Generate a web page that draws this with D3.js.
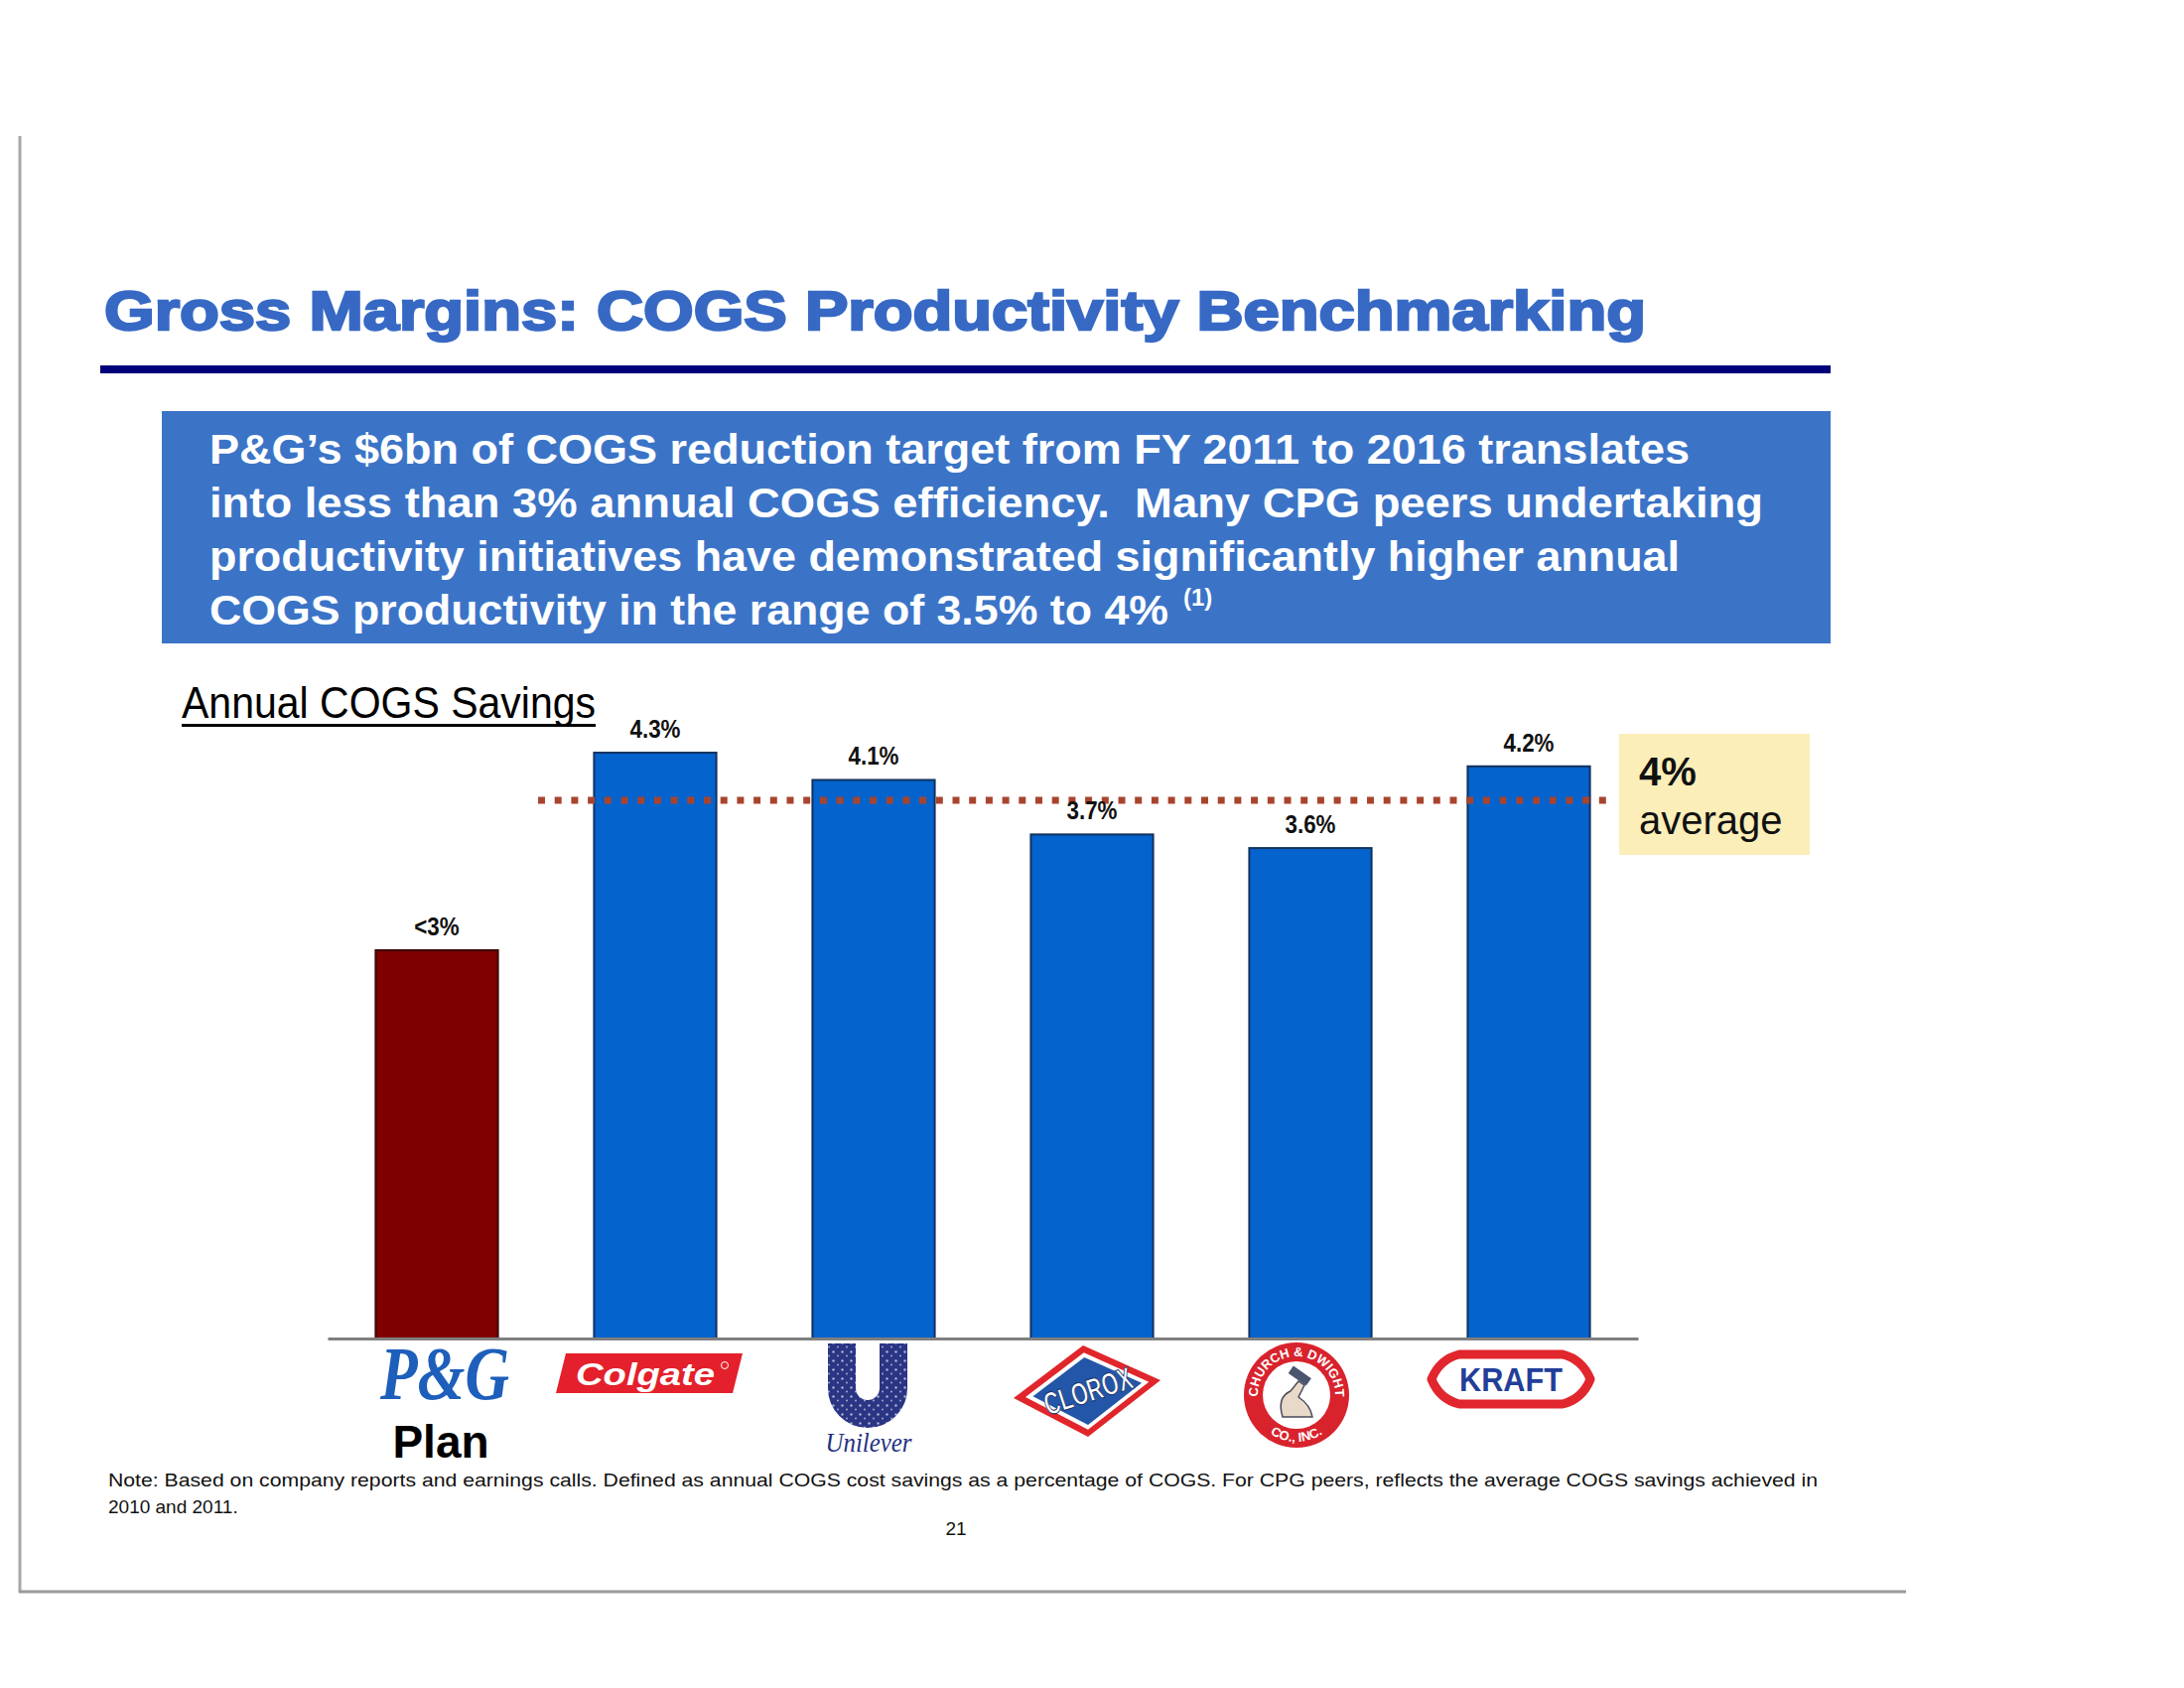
<!DOCTYPE html>
<html><head><meta charset="utf-8">
<script src="https://cdn.jsdelivr.net/npm/d3@7"></script>
<style>body{margin:0;background:#fff} svg{display:block}</style>
</head><body>
<svg id="c" width="2200" height="1700"></svg>
<script>
// ---------- data ----------
const categories = ["P&G Plan", "Colgate", "Unilever", "Clorox", "Church & Dwight", "Kraft"];
const savings = [2.85, 4.3, 4.1, 3.7, 3.6, 4.2];
const valueLabels = ["<3%", "4.3%", "4.1%", "3.7%", "3.6%", "4.2%"];
const peerAverage = 3.95;
const averageLabel = ["4%", "average"];
const titleText = "Gross Margins: COGS Productivity Benchmarking";
const calloutLines = [
  "P&G\u2019s $6bn of COGS reduction target from FY 2011 to 2016 translates",
  "into less than 3% annual COGS efficiency.  Many CPG peers undertaking",
  "productivity initiatives have demonstrated significantly higher annual",
  "COGS productivity in the range of 3.5% to 4%"
];
const calloutNote = "(1)";
const chartLabel = "Annual COGS Savings";
const noteLines = [
  "Note: Based on company reports and earnings calls. Defined as annual COGS cost savings as a percentage of COGS. For CPG peers, reflects the average COGS savings achieved in",
  "2010 and 2011."
];
const pageNumber = "21";

// ---------- drawing ----------
const svg = d3.select("#c");
const SANS = "'Liberation Sans', Arial, sans-serif";
const SERIF = "'Liberation Serif', 'Times New Roman', serif";

svg.append("rect").attr("width", 2200).attr("height", 1700).attr("fill", "#fff");

// page frame
svg.append("line").attr("x1", 20).attr("x2", 20).attr("y1", 137).attr("y2", 1604)
  .attr("stroke", "#a8a8a8").attr("stroke-width", 3);
svg.append("line").attr("x1", 19).attr("x2", 1920).attr("y1", 1603).attr("y2", 1603)
  .attr("stroke", "#9a9a9a").attr("stroke-width", 3);

// title
svg.append("text").attr("x", 105).attr("y", 332)
  .attr("font-family", SANS).attr("font-weight", "bold").attr("font-size", 56)
  .attr("fill", "#3769C4").attr("stroke", "#3769C4").attr("stroke-width", 2.4)
  .attr("textLength", 1553).attr("lengthAdjust", "spacingAndGlyphs")
  .text(titleText);
svg.append("rect").attr("x", 101).attr("y", 368).attr("width", 1743).attr("height", 8).attr("fill", "#00007a");

// callout box
svg.append("rect").attr("x", 163).attr("y", 414).attr("width", 1681).attr("height", 234).attr("fill", "#3B74C7");
const callG = svg.append("g");
const calloutWidths = [1491, 1565, 1481, 966];
calloutLines.forEach((t, i) => {
  callG.append("text").attr("x", 211).attr("y", 467 + i * 54)
    .attr("font-family", SANS).attr("font-weight", "bold").attr("font-size", 43)
    .attr("fill", "#fff").style("white-space", "pre")
    .attr("textLength", calloutWidths[i]).attr("lengthAdjust", "spacingAndGlyphs")
    .text(t);
});
callG.append("text").attr("x", 1192).attr("y", 610)
  .attr("font-family", SANS).attr("font-weight", "bold").attr("font-size", 24)
  .attr("fill", "#fff").text(calloutNote);

// chart label
svg.append("text").attr("x", 183).attr("y", 723)
  .attr("font-family", SANS).attr("font-size", 45).attr("fill", "#000")
  .attr("textLength", 417).attr("lengthAdjust", "spacingAndGlyphs")
  .text(chartLabel);
svg.append("rect").attr("x", 183).attr("y", 729).attr("width", 417).attr("height", 3).attr("fill", "#000");

// scales
const x = d3.scaleBand().domain(categories).range([330, 1650]).paddingInner(0.44).paddingOuter(0.22);
const y = d3.scaleLinear().domain([0, 5]).range([1348, 662]);
const data = categories.map((c, i) => ({ c, v: savings[i], label: valueLabels[i], i }));

// bars
svg.append("g").selectAll("rect").data(data).join("rect")
  .attr("x", d => x(d.c)).attr("width", x.bandwidth())
  .attr("y", d => y(d.v)).attr("height", d => y(0) - y(d.v))
  .attr("fill", d => d.i === 0 ? "#7E0000" : "#0463CC")
  .attr("stroke", d => d.i === 0 ? "#3a0606" : "#13315f").attr("stroke-width", 2);

// axis
const axis = svg.append("g").attr("transform", `translate(0,${y(0)})`)
  .call(d3.axisBottom(x).tickSize(0).tickSizeOuter(0).tickFormat(""));
axis.select(".domain").attr("stroke", "#7f7f7f").attr("stroke-width", 3);

// average line
svg.append("line").attr("x1", 542).attr("x2", 1627)
  .attr("y1", y(peerAverage)).attr("y2", y(peerAverage))
  .attr("stroke", "#A8442E").attr("stroke-width", 7).attr("stroke-dasharray", "7,9.7");

// value labels (slightly condensed)
svg.append("g").selectAll("g").data(data).join("g")
  .attr("transform", d => `translate(${x(d.c) + x.bandwidth() / 2},${y(d.v) - 15}) scale(0.86,1)`)
  .append("text").attr("text-anchor", "middle").attr("font-family", SANS).attr("font-weight", "bold")
  .attr("font-size", 26).attr("fill", "#111").text(d => d.label);

// average box
svg.append("rect").attr("x", 1631).attr("y", 739).attr("width", 192).attr("height", 122).attr("fill", "#FBEEB8");
svg.append("text").attr("x", 1651).attr("y", 791).attr("font-family", SANS).attr("font-weight", "bold")
  .attr("font-size", 40).attr("fill", "#111").text(averageLabel[0]);
svg.append("text").attr("x", 1651).attr("y", 840).attr("font-family", SANS)
  .attr("font-size", 40).attr("fill", "#111").text(averageLabel[1]);

// ---------- logos ----------
const defs = svg.append("defs");
const pat = defs.append("pattern").attr("id", "uni").attr("patternUnits", "userSpaceOnUse")
  .attr("width", 9).attr("height", 9);
pat.append("rect").attr("width", 9).attr("height", 9).attr("fill", "#2a3584");
pat.append("circle").attr("cx", 2.5).attr("cy", 2.5).attr("r", 1.2).attr("fill", "#aeb3d6");
pat.append("circle").attr("cx", 7).attr("cy", 6.5).attr("r", 0.9).attr("fill", "#aeb3d6");

const logoG = svg.append("g");
const logos = {
  "P&G Plan": (g, cx) => {
    g.append("text").attr("x", cx + 8).attr("y", 1409).attr("text-anchor", "middle")
      .attr("font-family", SERIF).attr("font-weight", "bold").attr("font-style", "italic")
      .attr("font-size", 76).attr("fill", "#1D5FBA")
      .attr("textLength", 130).attr("lengthAdjust", "spacingAndGlyphs").text("P&G");
    g.append("text").attr("x", cx + 4).attr("y", 1468).attr("text-anchor", "middle")
      .attr("font-family", SANS).attr("font-weight", "bold").attr("font-size", 46)
      .attr("fill", "#000").text("Plan");
  },
  "Colgate": (g, cx) => {
    g.append("polygon").attr("points", [[cx - 90, 1363], [cx + 88, 1363], [cx + 78, 1403], [cx - 100, 1403]].join(" "))
      .attr("fill", "#E3202B");
    g.append("text").attr("x", cx - 10).attr("y", 1395).attr("text-anchor", "middle")
      .attr("font-family", SANS).attr("font-weight", "bold").attr("font-style", "italic")
      .attr("font-size", 32).attr("fill", "#fff")
      .attr("textLength", 140).attr("lengthAdjust", "spacingAndGlyphs").text("Colgate");
    g.append("circle").attr("cx", cx + 70).attr("cy", 1375).attr("r", 3.5)
      .attr("fill", "none").attr("stroke", "#fff").attr("stroke-width", 1);
  },
  "Unilever": (g, cx) => {
    const ux = cx - 6;
    g.append("path").attr("d", `M${ux - 26},1353 V1398 A26,26 0 0 0 ${ux + 26},1398 V1353`)
      .attr("fill", "none").attr("stroke", "url(#uni)").attr("stroke-width", 28);
    g.append("text").attr("x", cx - 5).attr("y", 1462).attr("text-anchor", "middle")
      .attr("font-family", SERIF).attr("font-style", "italic").attr("font-size", 28)
      .attr("fill", "#23307f").attr("textLength", 87).attr("lengthAdjust", "spacingAndGlyphs").text("Unilever");
  },
  "Clorox": (g, cx) => {
    const c = [cx - 4, 1401];
    const pts = [[-5, -46], [73, -11], [0, 46], [-75, 7]];
    const poly = (s, fill) => g.append("polygon")
      .attr("points", pts.map(p => [c[0] + p[0] * s, c[1] + p[1] * s]).join(" ")).attr("fill", fill);
    poly(1, "#E0262B"); poly(0.84, "#ffffff"); poly(0.74, "#2356A8");
    g.append("text").attr("x", c[0]).attr("y", c[1] + 11).attr("text-anchor", "middle")
      .attr("transform", `rotate(-18 ${c[0]} ${c[1]})`)
      .attr("font-family", SANS).attr("font-weight", "bold").attr("font-size", 32)
      .attr("fill", "#fff").attr("stroke", "#12306a").attr("stroke-width", 1)
      .attr("textLength", 92).attr("lengthAdjust", "spacingAndGlyphs").text("CLOROX");
  },
  "Church & Dwight": (g, cx) => {
    const c = [cx - 14, 1405];
    g.append("circle").attr("cx", c[0]).attr("cy", c[1]).attr("r", 53).attr("fill", "#D8232D");
    g.append("circle").attr("cx", c[0]).attr("cy", c[1]).attr("r", 34).attr("fill", "#fff");
    const r = 39, a = 30 * Math.PI / 180;
    defs.append("path").attr("id", "cdTop")
      .attr("d", `M${c[0] - r * Math.cos(a)},${c[1] + r * Math.sin(a)} A${r},${r} 0 1 1 ${c[0] + r * Math.cos(a)},${c[1] + r * Math.sin(a)}`);
    const r2 = 47;
    defs.append("path").attr("id", "cdBot")
      .attr("d", `M${c[0] - r2},${c[1]} A${r2},${r2} 0 0 0 ${c[0] + r2},${c[1]}`);
    g.append("text").attr("font-family", SANS).attr("font-weight", "bold").attr("font-size", 13)
      .attr("fill", "#fff").append("textPath").attr("href", "#cdTop").attr("startOffset", "50%")
      .attr("text-anchor", "middle").text("CHURCH & DWIGHT");
    g.append("text").attr("font-family", SANS).attr("font-weight", "bold").attr("font-size", 13)
      .attr("fill", "#fff").append("textPath").attr("href", "#cdBot").attr("startOffset", "50%")
      .attr("text-anchor", "middle").text("CO., INC.");
    // arm & hammer
    g.append("path").attr("d", `M${c[0] - 14},${c[1] + 22} Q${c[0] - 20},${c[1] + 2} ${c[0] - 6},${c[1] - 4} L${c[0] + 2},${c[1] - 14} L${c[0] + 8},${c[1] - 10} L${c[0] + 2},${c[1] + 2} Q${c[0] + 14},${c[1] + 10} ${c[0] + 16},${c[1] + 22} Z`)
      .attr("fill", "#e9d9c8").attr("stroke", "#4a4a5a").attr("stroke-width", 1.5);
    g.append("rect").attr("x", c[0] - 8).attr("y", c[1] - 24).attr("width", 22).attr("height", 9)
      .attr("transform", `rotate(35 ${c[0] + 3} ${c[1] - 19})`).attr("fill", "#4a5570");
  },
  "Kraft": (g, cx) => {
    const c = [cx - 18, 1389];
    const d = `M${c[0] - 80},${c[1]} Q${c[0] - 72},${c[1] - 20} ${c[0] - 52},${c[1] - 25} L${c[0] + 52},${c[1] - 25} Q${c[0] + 72},${c[1] - 20} ${c[0] + 80},${c[1]} Q${c[0] + 72},${c[1] + 20} ${c[0] + 52},${c[1] + 25} L${c[0] - 52},${c[1] + 25} Q${c[0] - 72},${c[1] + 20} ${c[0] - 80},${c[1]} Z`;
    g.append("path").attr("d", d)
      .attr("fill", "#fff").attr("stroke", "#E1262D").attr("stroke-width", 9).attr("stroke-linejoin", "round");
    g.append("text").attr("x", c[0]).attr("y", c[1] + 12).attr("text-anchor", "middle")
      .attr("font-family", SANS).attr("font-weight", "bold").attr("font-size", 34)
      .attr("fill", "#233E99").attr("textLength", 104).attr("lengthAdjust", "spacingAndGlyphs").text("KRAFT");
  }
};
categories.forEach(c => {
  const g = logoG.append("g");
  logos[c](g, x(c) + x.bandwidth() / 2);
});

// footnote
noteLines.forEach((t, i) => {
  const el = svg.append("text").attr("x", 109).attr("y", 1497 + i * 27)
    .attr("font-family", SANS).attr("font-size", 19).attr("fill", "#111").text(t);
  if (i === 0) el.attr("textLength", 1722).attr("lengthAdjust", "spacingAndGlyphs");
});
svg.append("text").attr("x", 963).attr("y", 1546).attr("text-anchor", "middle")
  .attr("font-family", SANS).attr("font-size", 19).attr("fill", "#111").text(pageNumber);
</script>
</body></html>
